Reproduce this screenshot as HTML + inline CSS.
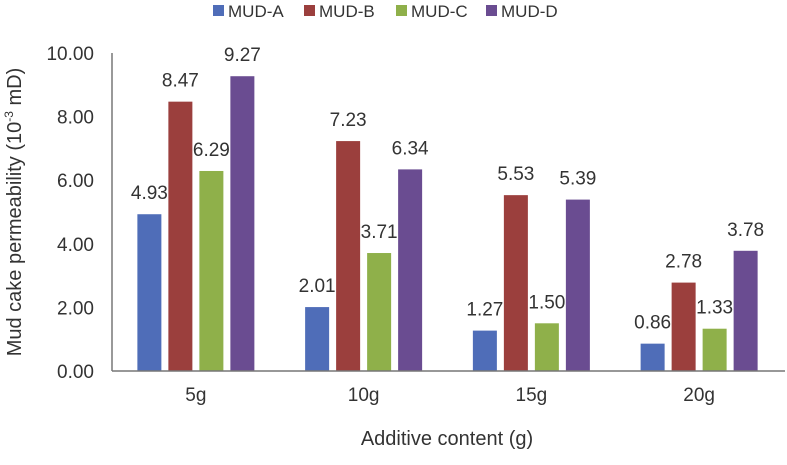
<!DOCTYPE html>
<html><head><meta charset="utf-8"><style>
body{margin:0;background:#fff;}
svg text{font-family:"Liberation Sans","DejaVu Sans",sans-serif;fill:#333;}
</style></head><body>
<svg id="chart" width="787" height="460" viewBox="0 0 787 460" xmlns="http://www.w3.org/2000/svg">
<g id="legend"></g>
<g id="plot"></g>
<text transform="translate(21,212) rotate(-90)" text-anchor="middle" font-size="20">Mud cake permeability (10<tspan dy="-8" font-size="12">-3</tspan><tspan dy="8"> mD)</tspan></text>
<text x="447" y="445" text-anchor="middle" font-size="20">Additive content (g)</text>
</svg>
<script>
const categories=["5g","10g","15g","20g"];
const seriesNames=["MUD-A","MUD-B","MUD-C","MUD-D"];
const mudA=[4.93,2.01,1.27,0.86];
const mudB=[8.47,7.23,5.53,2.78];
const mudC=[6.29,3.71,1.50,1.33];
const mudD=[9.27,6.34,5.39,3.78];
const yTicks=[0,2,4,6,8,10];
const colors=["#4f6db8","#9b3f3d","#8fb04a","#6a4c91"];
const series=[mudA,mudB,mudC,mudD];
const NS="http://www.w3.org/2000/svg";
const plotLeft=112,plotRight=783,plotTop=53,plotBottom=371,yMax=10;
const step=(plotRight-plotLeft)/categories.length;
function y(v){return plotBottom-(v/yMax)*(plotBottom-plotTop);}
function xc(i){return plotLeft+step*(i+0.5);}
function mk(tag,attrs,parent){const e=document.createElementNS(NS,tag);for(const k in attrs)e.setAttribute(k,attrs[k]);parent.appendChild(e);return e;}
const plot=document.getElementById('plot');
yTicks.forEach(t=>{
  const tx=mk('text',{x:94,y:y(t)+7,'text-anchor':'end','font-size':'19'},plot);
  tx.textContent=t.toFixed(2);
  
  
});
const bw=24,gap=31;
series.forEach((s,si)=>{
  s.forEach((v,ci)=>{
    const x0=xc(ci)-(gap*1.5)-bw/2+si*gap;
    const r=mk('rect',{x:x0,y:y(v),width:bw,height:plotBottom-y(v),fill:colors[si]},plot);
    
    
    const t=mk('text',{x:x0+bw/2,y:y(v)-15,'text-anchor':'middle','font-size':'19'},plot);
    t.textContent=v.toFixed(2);
    
    
  });
});
const ya=mk('line',{x1:plotLeft,y1:plotTop,x2:plotLeft,y2:plotBottom,stroke:'#333','stroke-width':1},plot);


const xa=mk('line',{x1:plotLeft,y1:plotBottom,x2:plotRight+2,y2:plotBottom,stroke:'#777','stroke-width':1.5},plot);


categories.forEach((c,i)=>{
  const t=mk('text',{x:xc(i),y:401,'text-anchor':'middle','font-size':'19'},plot);
  t.textContent=c;
  
  
});
const lg=document.getElementById('legend');
const lx=[213,304,396,486];
seriesNames.forEach((n,i)=>{
  const r=mk('rect',{x:lx[i],y:5,width:11,height:11,fill:colors[i]},lg);
  
  
  const t=mk('text',{x:lx[i]+15,y:17,'font-size':'17'},lg);
  t.textContent=n;
  
  
});
</script>
</body></html>
